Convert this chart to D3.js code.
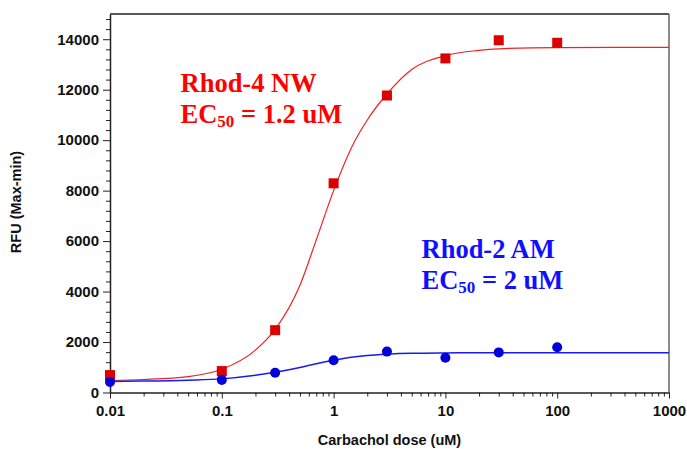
<!DOCTYPE html>
<html>
<head>
<meta charset="utf-8">
<script src="https://cdn.jsdelivr.net/npm/d3@7"></script>
<style>
	body { margin: 0; background: #fff; }
	.tick-label { font-family: "Liberation Sans", Arial, sans-serif; font-weight: bold; font-size: 15px; fill: #111; }
	.axis-title { font-family: "Liberation Sans", Arial, sans-serif; font-weight: bold; font-size: 14.5px; fill: #111; }
	.note { font-family: "Liberation Serif", "Times New Roman", serif; font-weight: bold; font-size: 26.5px; }
</style>
</head>
<body>
<div id="chart"></div>
<script>
// doses (uM) and measured RFU
const doses = [0.01, 0.1, 0.3, 1, 3, 10, 30, 100];
const rhod4 = [690, 850, 2470, 8290, 11770, 13240, 13960, 13860];
const rhod2 = [420, 500, 780, 1280, 1620, 1380, 1590, 1790];

// fitted curves
const fitDoses = [0.01, 0.02, 0.05, 0.1, 0.2, 0.3, 0.5, 0.7, 1, 1.5, 2, 3, 5, 10, 20, 30, 100, 1000];
const rhod4Fit = [480, 515, 630, 920, 1680, 2500, 4250, 6050, 8000, 9850, 10800, 11830, 12800, 13350, 13560, 13620, 13670, 13680];
const rhod2Fit = [440, 455, 490, 540, 680, 800, 990, 1140, 1280, 1410, 1470, 1520, 1555, 1570, 1575, 1575, 1575, 1575];

const xTicks = [0.01, 0.1, 1, 10, 100, 1000];
const xTickLabels = ["0.01", "0.1", "1", "10", "100", "1000"];
const yTicks = [0, 2000, 4000, 6000, 8000, 10000, 12000, 14000];

const W = 687, H = 449;
const m = {left: 110, right: 18, top: 14, bottom: 56.5};

const svg = d3.select('#chart').append('svg')
	.attr('width', W)
	.attr('height', H);

const xScale = d3.scaleLog()
	.domain([0.01, 1000])
	.range([m.left, W - m.right]);

const yScale = d3.scaleLinear()
	.domain([0, 15000])
	.range([H - m.bottom, m.top]);

const x0 = m.left, x1 = W - m.right, y0 = H - m.bottom, y1 = m.top;

// frame (top + right)
svg.append('line').attr('x1', x0).attr('x2', x1).attr('y1', y1).attr('y2', y1)
	.style('stroke', '#222').style('stroke-width', 1.5);
svg.append('line').attr('x1', x1).attr('x2', x1).attr('y1', y1).attr('y2', y0)
	.style('stroke', '#666').style('stroke-width', 1.5);

// x axis with log minor ticks
const xMinor = [];
for (let d = 0.01; d < 1000; d *= 10) {
	for (let k = 2; k <= 9; k++) xMinor.push(d * k);
}
svg.append('g')
	.attr('transform', 'translate(0,' + y0 + ')')
	.call(d3.axisBottom(xScale).tickValues(xMinor).tickSize(4).tickFormat(''))
	.call(g => g.select('.domain').remove())
	.selectAll('line').style('stroke', '#222');

const xAxis = svg.append('g')
	.attr('transform', 'translate(0,' + y0 + ')')
	.call(d3.axisBottom(xScale).tickValues(xTicks).tickSize(6).tickSizeOuter(0)
		.tickPadding(7)
		.tickFormat((d, i) => xTickLabels[i]));
xAxis.select('.domain').style('stroke', '#222').style('stroke-width', 1.5);
xAxis.selectAll('line').style('stroke', '#222');
xAxis.selectAll('text').attr('class', 'tick-label').attr('font-size', null).attr('font-family', null);

// y axis with minor ticks every 400
const yMinor = d3.range(400, 15000, 400).filter(v => v % 2000 !== 0);
svg.append('g')
	.attr('transform', 'translate(' + x0 + ',0)')
	.call(d3.axisLeft(yScale).tickValues(yMinor).tickSize(4).tickFormat(''))
	.call(g => g.select('.domain').remove())
	.selectAll('line').style('stroke', '#222');

const yAxis = svg.append('g')
	.attr('transform', 'translate(' + x0 + ',0)')
	.call(d3.axisLeft(yScale).tickValues(yTicks).tickSize(7).tickSizeOuter(0)
		.tickPadding(4)
		.tickFormat(d3.format('d')));
yAxis.select('.domain').style('stroke', '#222').style('stroke-width', 1.5);
yAxis.selectAll('line').style('stroke', '#222');
yAxis.selectAll('text').attr('class', 'tick-label').attr('font-size', null).attr('font-family', null);

// axis titles
svg.append('text')
	.attr('class', 'axis-title')
	.attr('x', (x0 + x1) / 2)
	.attr('y', 445)
	.style('text-anchor', 'middle')
	.text('Carbachol dose (uM)');

svg.append('text')
	.attr('class', 'axis-title')
	.attr('transform', 'translate(21,' + 202 + ') rotate(-90)')
	.style('text-anchor', 'middle')
	.text('RFU (Max-min)');

// curves
const fitLine = vals => d3.line()
	.curve(d3.curveMonotoneX)
	.x((d, i) => xScale(fitDoses[i]))
	.y((d, i) => yScale(vals[i]))(vals);

svg.append('path')
	.attr('d', fitLine(rhod4Fit))
	.attr('fill', 'none')
	.style('stroke', '#ee2222')
	.style('stroke-width', 1.2);

svg.append('path')
	.attr('d', fitLine(rhod2Fit))
	.attr('fill', 'none')
	.style('stroke', '#1a1aee')
	.style('stroke-width', 1.5);

// markers
const sq = 10;
svg.selectAll('.rhod4').data(rhod4).enter().append('rect')
	.attr('class', 'rhod4')
	.attr('x', (d, i) => xScale(doses[i]) - sq / 2)
	.attr('y', d => yScale(d) - sq / 2)
	.attr('width', sq)
	.attr('height', sq)
	.style('fill', '#dd0000');

svg.selectAll('.rhod2').data(rhod2).enter().append('circle')
	.attr('class', 'rhod2')
	.attr('cx', (d, i) => xScale(doses[i]))
	.attr('cy', d => yScale(d))
	.attr('r', 5)
	.style('fill', '#0000dd');

// annotations
function note(x, y, color, name, ec) {
	svg.append('text').attr('class', 'note').attr('x', x).attr('y', y)
		.style('fill', color).text(name);
	const t = svg.append('text').attr('class', 'note').attr('x', x).attr('y', y + 31)
		.style('fill', color);
	t.append('tspan').text('EC');
	t.append('tspan').attr('dy', 4).style('font-size', '17px').text('50');
	t.append('tspan').attr('dy', -4).text(' = ' + ec);
}
note(180.5, 91.5, '#ff0000', 'Rhod-4 NW', '1.2 uM');
note(421.5, 258, '#1010ff', 'Rhod-2 AM', '2 uM');
</script>
</body>
</html>
